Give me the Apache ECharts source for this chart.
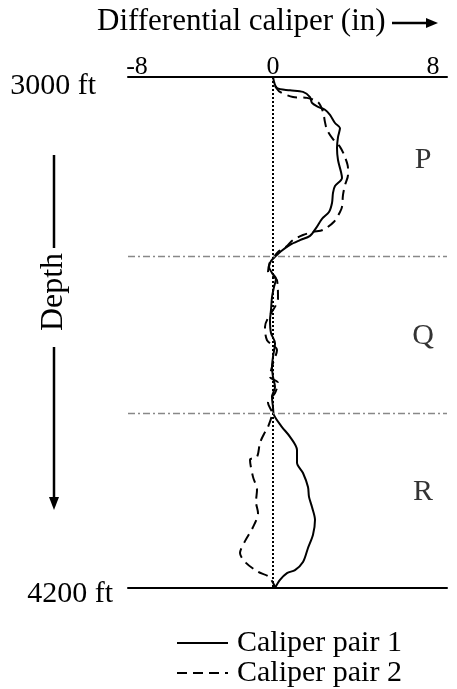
<!DOCTYPE html>
<html>
<head>
<meta charset="utf-8">
<script src="https://cdn.jsdelivr.net/npm/echarts@6/dist/echarts.min.js"></script>
<style>html,body{margin:0;padding:0;background:#fff;}#c{width:457px;height:689px;}</style>
</head>
<body>
<div id="c"></div>
<script>
// Depth (ft) and differential caliper (in)
const pair1Depth = [3000,3026,3031,3035,3047,3061,3070,3077,3089,3108,3120,3141,3167,3195,3223,3237,3256,3272,3296,3317,3333,3355,3373,3383,3394,3409,3420,3432,3446,3460,3474,3493,3517,3547,3571,3601,3625,3657,3681,3704,3728,3751,3775,3794,3822,3845,3876,3906,3930,3963,3986,4010,4040,4075,4106,4139,4158,4165,4181,4200];
const pair1Value = [0,0.2,0.85,1.5,1.85,1.95,2.25,2.6,2.85,3.1,3.35,3.25,3.2,3.25,3.4,3.45,3.1,3.0,2.95,2.8,2.45,2.15,1.85,1.35,0.85,0.4,0.15,-0.1,-0.2,-0.05,0.15,0.05,-0.05,-0.1,-0.15,-0.1,0.1,0,-0.05,0,0.1,-0.05,0,0.05,0.45,0.85,1.2,1.2,1.5,1.75,1.8,1.95,2.1,2.0,1.75,1.5,1.1,0.7,0.35,0.1];
const pair2Depth = [3021,3035,3047,3049,3059,3082,3106,3124,3146,3164,3188,3214,3230,3254,3277,3305,3317,3340,3359,3364,3371,3383,3399,3411,3425,3434,3458,3477,3519,3587,3618,3641,3672,3704,3718,3742,3765,3789,3822,3834,3859,3892,3899,3939,3970,3998,4024,4057,4090,4118,4141,4162,4174,4197];
const pair2Value = [0.1,0.35,1.0,1.7,2.25,2.5,2.6,2.7,3.0,3.35,3.6,3.75,3.75,3.6,3.5,3.45,3.35,3.05,2.5,2.0,1.5,1.0,0.65,0.25,0,-0.15,-0.25,0.2,0.25,-0.4,-0.3,0.2,0,-0.15,0.25,0.1,-0.25,-0.05,-0.25,-0.4,-0.65,-0.8,-1.15,-1.0,-0.8,-0.85,-0.75,-1.0,-1.4,-1.65,-1.35,-0.75,-0.2,0.1];
const zoneNames = ['P','Q','R'];
const zoneDepth = [3195,3608,3974];
const zoneBoundaries = [3420,3790];
const depthTicks = [3000,4200];
const seriesNames = ['Caliper pair 1','Caliper pair 2'];

const FONT = '"Liberation Serif","Times New Roman",serif';
const chart = echarts.init(document.getElementById('c'));
const p1 = pair1Value.map((v,i)=>[v,pair1Depth[i]]);
const p2 = pair2Value.map((v,i)=>[v,pair2Depth[i]]);
const zones = zoneNames.map((n,i)=>[7.5,zoneDepth[i],n]);

chart.setOption({
  animation:false,
  backgroundColor:'#fff',
  textStyle:{fontFamily:FONT,color:'#000'},
  grid:{left:128,right:10,top:77,bottom:101,containLabel:false},
  xAxis:[{
    type:'value',position:'top',min:-7.25,max:8.7,
    axisLine:{show:true,onZero:false,lineStyle:{color:'#000',width:2}},
    axisTick:{show:false},splitLine:{show:false},
    axisLabel:{customValues:[-6.8,0,8],margin:-3,fontSize:26,fontFamily:FONT,color:'#000',
      formatter:v=> v<-6 ? '-8' : String(v)}
  },{
    type:'value',position:'bottom',min:-7.25,max:8.7,
    axisLine:{show:true,onZero:false,lineStyle:{color:'#000',width:2}},
    axisTick:{show:false},splitLine:{show:false},axisLabel:{show:false}
  }],
  yAxis:{
    type:'value',inverse:true,min:3000,max:4200,
    axisLine:{show:false},axisTick:{show:false},splitLine:{show:false},
    axisLabel:{customValues:depthTicks,margin:15,color:'#000',
      formatter:v=> v===3000 ? '{a|'+v+' ft}' : '{b|'+v+' ft}',
      rich:{a:{fontSize:30,fontFamily:FONT,color:'#000',padding:[18,17,0,0]},
            b:{fontSize:30,fontFamily:FONT,color:'#000',padding:[12,0,0,0]}}}
  },
  legend:{
    data:seriesNames,orient:'vertical',left:176,top:628,padding:0,
    itemWidth:51,itemHeight:14,itemGap:0,
    itemStyle:{color:'rgba(0,0,0,0)',borderColor:'rgba(0,0,0,0)',borderWidth:0,opacity:0},
    textStyle:{fontSize:30,fontFamily:FONT,color:'#000',lineHeight:28,padding:[0,0,0,4]}
  },
  series:[{
    name:seriesNames[0],type:'line',symbol:'none',smooth:0.3,
    data:p1,lineStyle:{color:'#000',width:2},itemStyle:{color:'#000'},
    markLine:{silent:true,symbol:'none',label:{show:false},
      data:[
        [{coord:[0,3000]},{coord:[0,4200],lineStyle:{color:'#000',width:2,type:[2,2]}}],
        {yAxis:zoneBoundaries[0],lineStyle:{color:'#888',width:1.3,type:[7,3,2,3]}},
        {yAxis:zoneBoundaries[1],lineStyle:{color:'#888',width:1.3,type:[7,3,2,3]}}
      ]}
  },{
    name:seriesNames[1],type:'line',symbol:'none',smooth:0.3,
    data:p2,lineStyle:{color:'#000',width:2,type:[10,6]},itemStyle:{color:'#000'}
  },{
    name:'zones',type:'scatter',symbolSize:0,data:zones,silent:true,
    label:{show:true,position:'inside',formatter:p=>p.data[2],fontSize:30,fontFamily:FONT,color:'#000'}
  }],
  graphic:[
    {type:'text',left:97,top:6,style:{text:'Differential caliper (in)',font:'31px '+FONT,fill:'#000'}},
    {type:'line',shape:{x1:392,y1:23,x2:428,y2:23},style:{stroke:'#000',lineWidth:2.5}},
    {type:'polygon',shape:{points:[[426,18],[438,23],[426,28]]},style:{fill:'#000'}},
    {type:'line',shape:{x1:54,y1:155,x2:54,y2:248},style:{stroke:'#000',lineWidth:2.5}},
    {type:'line',shape:{x1:54,y1:347,x2:54,y2:500},style:{stroke:'#000',lineWidth:2.5}},
    {type:'polygon',shape:{points:[[49,497],[59,497],[54,510]]},style:{fill:'#000'}},
    {type:'text',x:54,y:292,rotation:Math.PI/2,style:{text:'Depth',font:'32px '+FONT,fill:'#000',align:'center',verticalAlign:'middle'}}
  ]
});
</script>
</body>
</html>
